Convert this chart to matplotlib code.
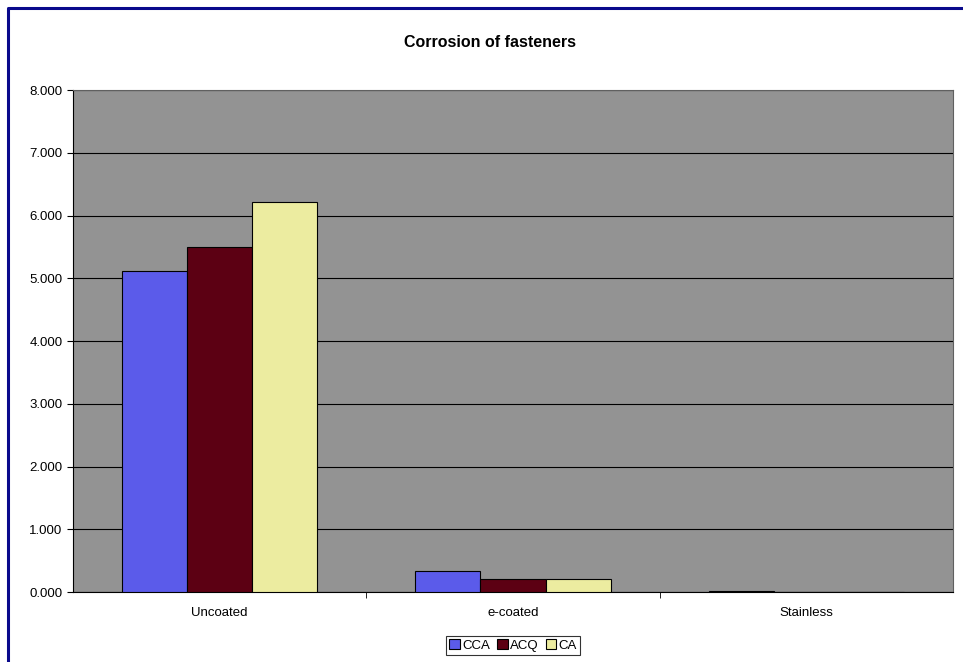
import numpy as np
import matplotlib
matplotlib.use("Agg")
import matplotlib.pyplot as plt
from matplotlib.lines import Line2D

plt.rcParams['font.family'] = ['Liberation Sans', 'DejaVu Sans']

categories = ["Uncoated", "e-coated", "Stainless"]
series = ["CCA", "ACQ", "CA"]
cca = [5.115, 0.33, 0.02]
acq = [5.50, 0.20, 0.005]
ca = [6.215, 0.20, 0.005]
colors = ["#5b5bea", "#5c0013", "#ececa0"]
yticks = np.arange(0, 8.001, 1.0)

fig = plt.figure(figsize=(9.63, 6.62), dpi=100)
ax = fig.add_axes([0.0758, 0.1057, 0.9138, 0.7583])
ax.set_facecolor("#939393")

x = np.arange(len(categories))
w = 0.222
for i, (vals, name) in enumerate(zip([cca, acq, ca], series)):
    ax.bar(x + (i - 1) * w, vals, w, color=colors[i], edgecolor="black",
           linewidth=0.8, label=name, zorder=3)

ax.set_xlim(-0.5, 2.5)
ax.set_ylim(0, 8)
ax.set_yticks(yticks)
ax.set_yticklabels([f"{v:.3f}" for v in yticks])
ax.yaxis.grid(True, color="black", linewidth=0.8, zorder=1)
ax.set_axisbelow(True)

ax.set_xticks(x)
ax.set_xticklabels(categories)
ax.tick_params(axis="x", length=0, pad=11, labelsize=9.5)
ax.set_xticks([0.5, 1.5], minor=True)
ax.tick_params(axis="x", which="minor", length=4, direction="out")
ax.tick_params(axis="y", length=4, direction="out", labelsize=9.5)

for s in ["top", "right"]:
    ax.spines[s].set_color("#606060")
ax.spines["left"].set_color("black")
ax.spines["bottom"].set_color("black")

fig.text(0.509, 0.936, "Corrosion of fasteners", ha="center", va="center",
         fontsize=11.5, fontweight="bold")

leg = fig.legend(loc="center", bbox_to_anchor=(0.533, 0.025), ncol=3,
                 fontsize=9.5, frameon=True, fancybox=False, edgecolor="black",
                 handlelength=0.8, handleheight=0.8, handletextpad=0.2,
                 columnspacing=0.5, borderpad=0.25, borderaxespad=0)
leg.get_frame().set_linewidth(0.8)

# outer frame (left and top edges visible)
fig.add_artist(Line2D([0.0083, 0.0083, 1.0], [0.0, 0.9879, 0.9879],
                      transform=fig.transFigure, color="#0a0a8c", linewidth=2.2))

fig.savefig("out.png", dpi=100)
